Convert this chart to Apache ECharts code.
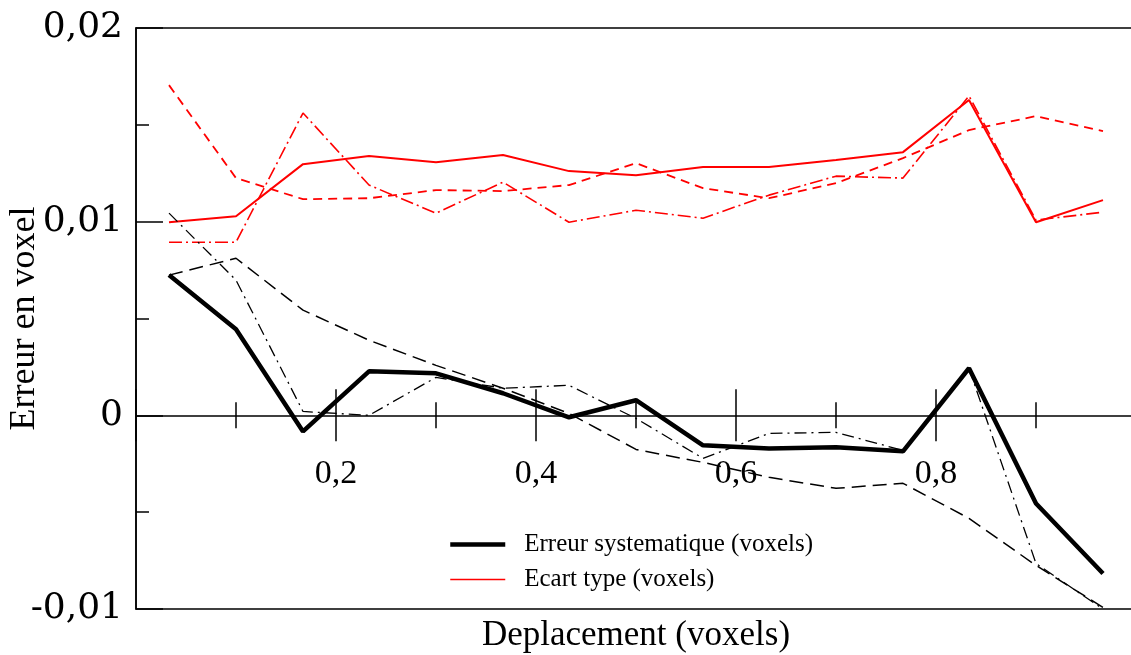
<!DOCTYPE html>
<html>
<head>
<meta charset="utf-8">
<script src="https://cdn.jsdelivr.net/npm/echarts@6/dist/echarts.min.js"></script>
<style>html,body{margin:0;padding:0;background:#fff}#c{width:1131px;height:655px}</style>
</head>
<body>
<div id="c"></div>
<script>
// Deplacement (voxels)
var deplacement = [0.033, 0.1, 0.167, 0.233, 0.3, 0.367, 0.433, 0.5, 0.567, 0.633, 0.7, 0.767, 0.833, 0.9, 0.967];
// Erreur systematique (black)
var erreurSolid = [0.00724, 0.00444, -0.00083, 0.00227, 0.00217, 0.00114, -0.0001, 0.00078, -0.00155, -0.00171, -0.00165, -0.00186, 0.00243, -0.00455, -0.00817];
var erreurDashed = [0.00724, 0.00811, 0.00543, 0.00388, 0.00258, 0.0014, 0.0001, -0.00176, -0.00243, -0.0032, -0.00377, -0.00351, -0.00532, -0.00775, -0.00992];
var erreurDashDot = [0.01044, 0.00698, 0.0002, 0.0, 0.00196, 0.0014, 0.00155, -0.00016, -0.00222, -0.00093, -0.00088, -0.00181, 0.00243, -0.00765, -0.01];
// Ecart type (red)
var ecartSolid = [0.00997, 0.01028, 0.01297, 0.01339, 0.01307, 0.01344, 0.01261, 0.0124, 0.01282, 0.01282, 0.01318, 0.01359, 0.01628, 0.00997, 0.01111];
var ecartDashed = [0.01705, 0.01225, 0.01116, 0.01121, 0.01163, 0.01158, 0.01189, 0.01302, 0.01173, 0.01121, 0.01199, 0.01328, 0.01473, 0.01545, 0.01468];
var ecartDashDot = [0.00894, 0.00894, 0.01561, 0.01189, 0.01044, 0.01204, 0.00997, 0.01059, 0.01018, 0.01137, 0.01235, 0.01225, 0.01649, 0.01008, 0.01049];
// tick labels
var xTickLabels = ['0,2', '0,4', '0,6', '0,8'];
var yTickLabels = ['-0,01', '0', '0,01', '0,02'];
var legendNames = ['Erreur systematique (voxels)', 'Ecart type (voxels)'];

function pairs(ys) { return deplacement.map(function (x, i) { return [x, ys[i]]; }); }

var SERIF = 'Liberation Serif';
var chart = echarts.init(document.getElementById('c'), null, { renderer: 'canvas' });

function xLabel(v) {
  var i = Math.round(v * 10) / 2 - 1;
  return (i >= 0 && i < xTickLabels.length && Math.abs(v * 5 - Math.round(v * 5)) < 1e-6) ? xTickLabels[i] : '';
}
function yLabel(v) {
  var i = Math.round(v * 100) + 1;
  return yTickLabels[i] || '';
}

var common = { type: 'value', min: 0, max: 1, interval: 0.2 };

chart.setOption({
  animation: false,
  backgroundColor: '#fff',
  grid: { left: 136, right: -5, top: 28, bottom: 46, show: true, borderColor: '#000', borderWidth: 1.5, backgroundColor: 'transparent', containLabel: false, outerBoundsMode: 'none' },
  xAxis: [
    Object.assign({}, common, {
      position: 'bottom',
      axisLine: { show: true, onZero: true, lineStyle: { color: '#000', width: 1.5 } },
      axisTick: { show: true, inside: true, length: 26, lineStyle: { color: '#000', width: 1.5 } },
      minorTick: { show: true, splitNumber: 2, length: 13, lineStyle: { color: '#000', width: 1.5 } },
      axisLabel: { show: true, margin: -152, formatter: xLabel, color: '#000', fontFamily: SERIF, fontSize: 34, showMinLabel: false, showMaxLabel: false },
      splitLine: { show: false }
    }),
    Object.assign({}, common, {
      position: 'bottom',
      axisLine: { show: false, onZero: true, onZeroAxisIndex: 1 },
      axisTick: { show: true, inside: false, length: 26, lineStyle: { color: '#000', width: 1.5 } },
      minorTick: { show: true, splitNumber: 2, length: 13, lineStyle: { color: '#000', width: 1.5 } },
      axisLabel: { show: false },
      splitLine: { show: false }
    })
  ],
  yAxis: [
    {
      type: 'value', min: -0.01, max: 0.02, interval: 0.01,
      position: 'left',
      name: 'Erreur en voxel', nameLocation: 'middle', nameRotate: 90, nameGap: 93, nameMoveOverlap: false,
      nameTextStyle: { color: '#000', fontFamily: SERIF, fontSize: 36 },
      axisLine: { show: true, onZero: true, lineStyle: { color: '#000', width: 1.5 } },
      axisTick: { show: true, inside: true, length: 27, lineStyle: { color: '#000', width: 1.5 } },
      minorTick: { show: true, splitNumber: 2, length: 13, lineStyle: { color: '#000', width: 1.5 } },
      axisLabel: { show: true, margin: 13, formatter: yLabel, color: '#000', fontFamily: 'DejaVu Serif', fontSize: 36 },
      splitLine: { show: false }
    },
    {
      type: 'value', min: -0.01, max: 0.02, interval: 0.01,
      position: 'left',
      axisLine: { show: false, onZero: true },
      axisTick: { show: false }, axisLabel: { show: false }, splitLine: { show: false }
    }
  ],
  legend: {
    left: 443, top: 527, orient: 'vertical', itemWidth: 55, itemHeight: 14, itemGap: 10,
    textStyle: { color: '#000', fontFamily: SERIF, fontSize: 25, padding: [0, 0, 0, 14] },
    itemStyle: { opacity: 0, borderWidth: 0 },
    data: [
      { name: legendNames[0], lineStyle: { width: 4.5, color: '#000' } },
      { name: legendNames[1], lineStyle: { width: 1.5, color: '#ff0000' } }
    ],
    selectedMode: false
  },
  graphic: [{
    type: 'text', x: 636, y: 636,
    style: { text: 'Deplacement (voxels)', fontFamily: SERIF, fontSize: 35, fill: '#000', align: 'center', verticalAlign: 'middle' }
  }],
  series: [
    { name: 'Ecart type dashed', type: 'line', data: pairs(ecartDashed), symbol: 'none', itemStyle: { color: '#ff0000' }, lineStyle: { color: '#ff0000', width: 1.8, type: [9, 6] } },
    { name: 'Ecart type dashdot', type: 'line', data: pairs(ecartDashDot), symbol: 'none', itemStyle: { color: '#ff0000' }, lineStyle: { color: '#ff0000', width: 1.6, type: [13, 4, 2, 4] } },
    { name: legendNames[1], type: 'line', data: pairs(ecartSolid), symbol: 'none', itemStyle: { color: '#ff0000' }, lineStyle: { color: '#ff0000', width: 2 } },
    { name: 'Erreur dashed', type: 'line', data: pairs(erreurDashed), symbol: 'none', itemStyle: { color: '#000' }, lineStyle: { color: '#000', width: 1.5, type: [14, 7] } },
    { name: 'Erreur dashdot', type: 'line', data: pairs(erreurDashDot), symbol: 'none', itemStyle: { color: '#000' }, lineStyle: { color: '#000', width: 1.3, type: [12, 5, 2, 5] } },
    { name: legendNames[0], type: 'line', data: pairs(erreurSolid), symbol: 'none', itemStyle: { color: '#000' }, lineStyle: { color: '#000', width: 4.5 } }
  ]
});
</script>
</body>
</html>
